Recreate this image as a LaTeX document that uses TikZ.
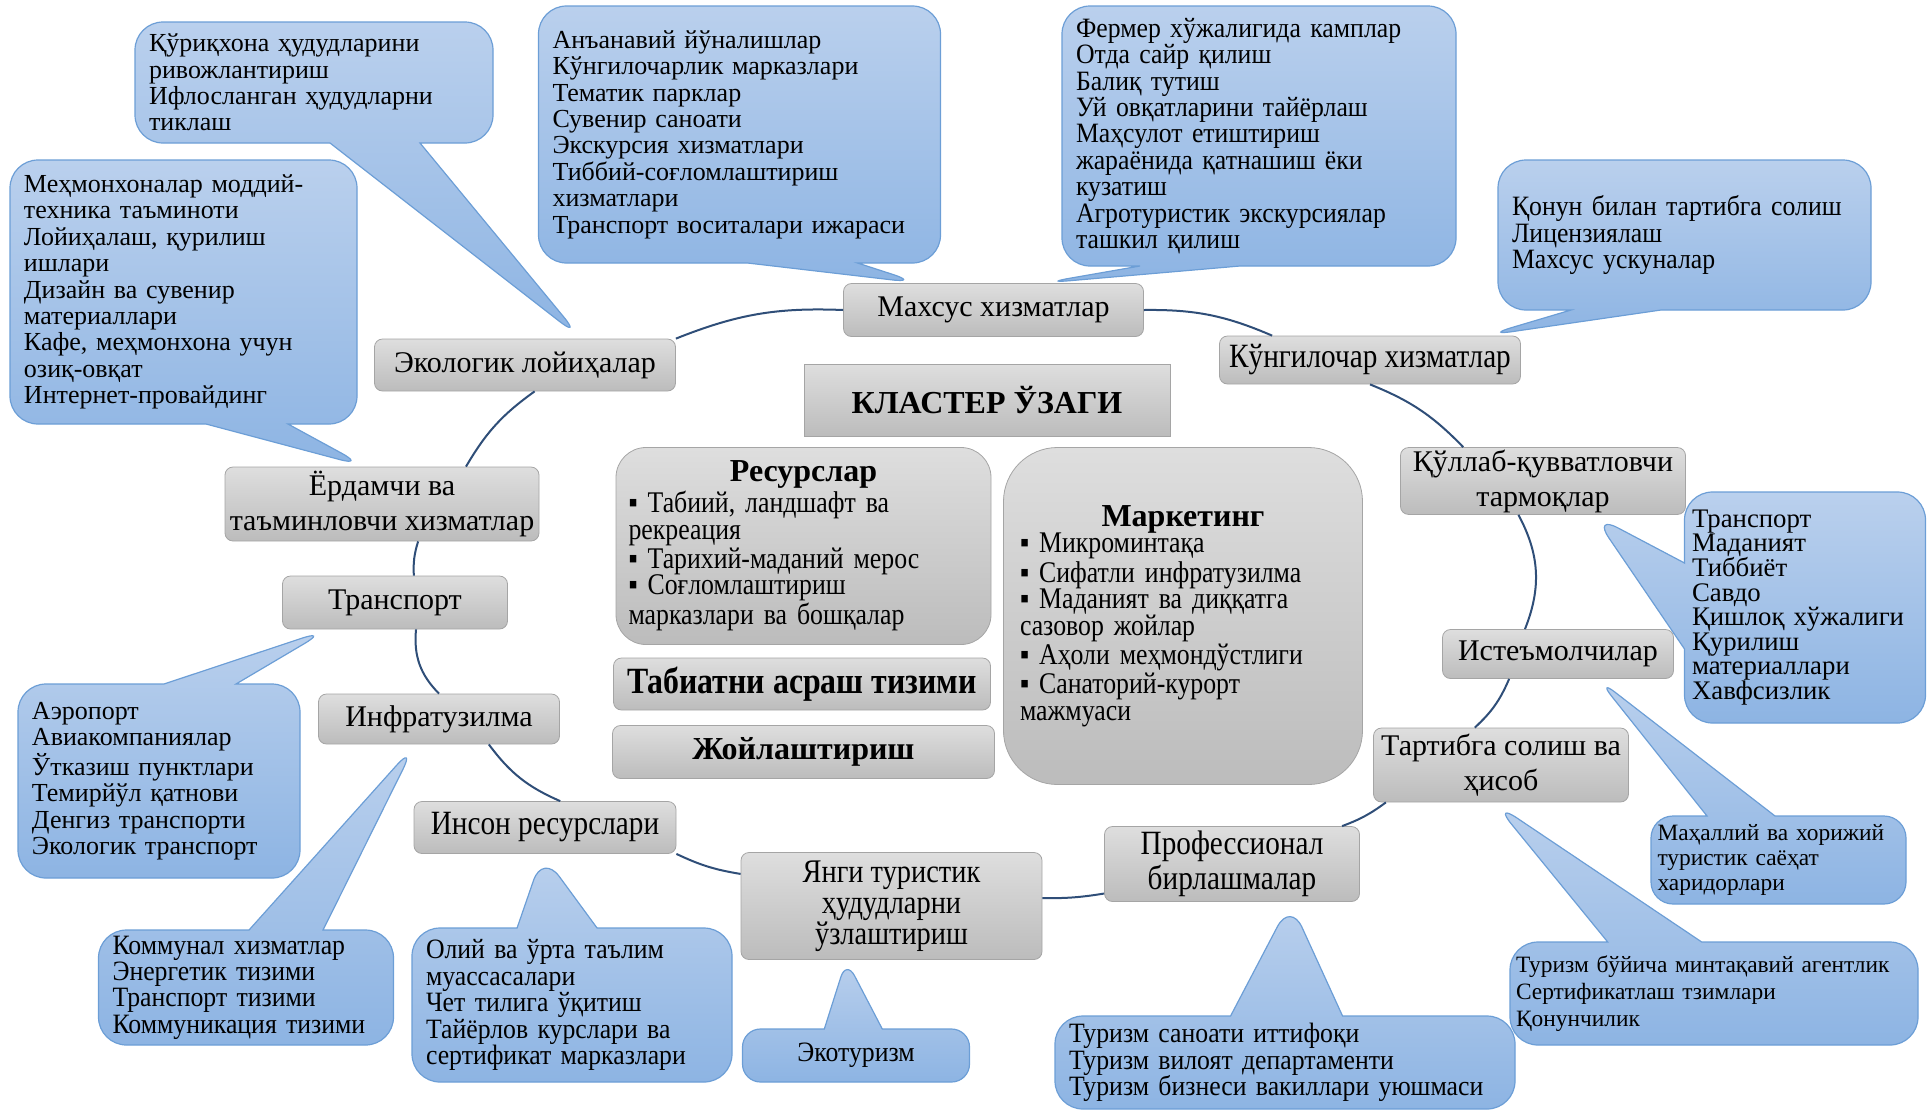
\documentclass[tikz,border=0pt]{standalone}
\usepackage{fontspec}
\setmainfont{Liberation Serif}
\newfontfamily\narrowserif[FakeStretch=0.86]{Liberation Serif}
\newfontfamily\slimserif[FakeStretch=0.92]{Liberation Serif}
\usetikzlibrary{shapes.callouts}

\definecolor{bubbletop}{RGB}{186,208,237}
\definecolor{bubblebottom}{RGB}{141,180,227}
\definecolor{bubbleline}{RGB}{108,158,214}
\definecolor{boxtop}{RGB}{222,222,222}
\definecolor{boxbottom}{RGB}{188,188,188}
\definecolor{boxline}{RGB}{165,165,165}
\definecolor{ringblue}{RGB}{47,78,120}

\newcommand\bubblefont{\fontsize{13}{13.2}\selectfont}
\newcommand\bubblesmall{\fontsize{11.7}{13.2}\selectfont}
\newcommand\bubblenarrow{\slimserif\fontsize{14}{13.2}\selectfont}
\newcommand\hubfont{\fontsize{15}{17.5}\selectfont}
\newcommand\hubnarrow{\narrowserif\fontsize{17}{17.5}\selectfont}
\newcommand\hubtight{\narrowserif\fontsize{16.5}{15.5}\selectfont}
\newcommand\listfont{\narrowserif\fontsize{15}{13.4}\selectfont}
\newcommand\headfont{\fontsize{16}{19}\selectfont\bfseries}

\tikzset{
  hub/.style={draw=boxline, top color=boxtop, bottom color=boxbottom,
    rounded corners=4pt, align=center, inner sep=1pt, font=\hubfont},
  bubble/.style={rectangle callout, draw=bubbleline, line width=0.6pt,
    top color=bubbletop, bottom color=bubblebottom, rounded corners=14pt,
    align=left, inner xsep=7pt, inner ysep=2pt, callout pointer width=40pt,
    font=\bubblefont},
  ring/.style={draw=ringblue, line width=1pt},
}

\begin{document}
\begin{tikzpicture}[x=0.5pt,y=-0.5pt]
  \useasboundingbox (0,0) rectangle (1928,1109);

  % ring of cluster members
  \node[hub, minimum width=150pt, minimum height=26.5pt] (special) at (993.5,310) {Махсус хизматлар};
  \node[hub, minimum width=150.5pt, minimum height=24pt, font=\hubnarrow] (fun) at (1370,360) {Кўнгилочар хизматлар};
  \node[hub, minimum width=142.5pt, minimum height=33pt] (support) at (1543,481) {Қўллаб-қувватловчи\\тармоқлар};
  \node[hub, minimum width=115.5pt, minimum height=24.5pt] (consumers) at (1558,654) {Истеъмолчилар};
  \node[hub, minimum width=127.5pt, minimum height=37pt] (regul) at (1501,765) {Тартибга солиш ва\\ҳисоб};
  \node[hub, minimum width=127.5pt, minimum height=37.5pt, font=\hubnarrow] (prof) at (1232,864) {Профессионал\\бирлашмалар};
  \node[hub, minimum width=150.5pt, minimum height=53.5pt, font=\hubtight] (newarea) at (891.5,906) {Янги туристик\\ҳудудларни\\ўзлаштириш};
  \node[hub, minimum width=131pt, minimum height=26pt, font=\hubnarrow] (human) at (545,827.5) {Инсон ресурслари};
  \node[hub, minimum width=120.5pt, minimum height=25pt] (infra) at (439,719) {Инфратузилма};
  \node[hub, minimum width=112.5pt, minimum height=26.5pt] (transport) at (395,602.5) {Транспорт};
  \node[hub, minimum width=157pt, minimum height=37pt] (auxiliary) at (382,504) {Ёрдамчи ва\\таъминловчи хизматлар};
  \node[hub, minimum width=150.5pt, minimum height=26pt] (eco) at (525,365) {Экологик лойиҳалар};

  % core
  \node[hub, rounded corners=0pt, minimum width=183pt, minimum height=36pt, font=\fontsize{16}{18}\selectfont\bfseries] (core) at (987,400) {КЛАСТЕР ЎЗАГИ};
  \node[hub, rounded corners=15pt, minimum height=98.5pt, text width=175pt, inner xsep=6.25pt, align=left] (resources) at (803.5,546)
    {{\centering\headfont Ресурслар\par}\raggedright\listfont
     ▪ Табиий, ландшафт ва\\рекреация\\▪ Тарихий-маданий мерос\\▪ Соғломлаштириш\\марказлари ва бошқалар\par};
  \node[hub, minimum width=188.5pt, minimum height=26pt, font=\narrowserif\fontsize{18.5}{20}\selectfont\bfseries] (nature) at (802,684) {Табиатни асраш тизими};
  \node[hub, minimum width=191pt, minimum height=26.5pt, font=\headfont] (lodging) at (803.5,752) {Жойлаштириш};
  \node[hub, rounded corners=27pt, minimum height=168.5pt, text width=163pt, inner xsep=8.25pt, align=left] (marketing) at (1183,616)
    {{\centering\headfont Маркетинг\par}\raggedright\listfont
     ▪ Микроминтақа\\▪ Сифатли инфратузилма\\▪ Маданият ва диққатга\\сазовор жойлар\\▪ Аҳоли меҳмондўстлиги\\▪ Санаторий-курорт\\мажмуаси\par};

  \draw[ring] (eco.north east) to[bend left=12] (special.west);
  \draw[ring] (special.east) to[bend left=12] (fun.166);
  \draw[ring] (fun.south) to[bend left=12] (support.157);
  \draw[ring] (support.234) to[bend left=25] (consumers.143);
  \draw[ring] (consumers.207) to[bend left=12] (regul.125);
  \draw[ring] (regul.198) to[bend left=8] (prof.19);
  \draw[ring] (prof.193) to[bend left=5] (newarea.3);
  \draw[ring] (newarea.168) to[bend left=8] (human.south east);
  \draw[ring] (human.60) to[bend left=15] (infra.333);
  \draw[ring] (infra.north) to[bend left=25] (transport.308);
  \draw[ring] (transport.55) to[bend left=10] (auxiliary.314);
  \draw[ring] (auxiliary.24) to[bend left=12] (eco.290);

  % notes
  \node[bubble, text width=165pt, minimum height=60.5pt, callout pointer width=45pt,
    callout absolute pointer={(eco.25)}] (reserveNote) at (314,82.5)
    {Қўриқхона ҳудудларини\\ривожлантириш\\Ифлосланган ҳудудларни\\тиклаш};
  \node[bubble, text width=187pt, minimum height=128.5pt, callout pointer width=55pt,
    callout absolute pointer={(special.160)}] (tradNote) at (739.5,134.5)
    {Анъанавий йўналишлар\\Кўнгилочарлик марказлари\\Тематик парклар\\Сувенир саноати\\Экскурсия хизматлари\\Тиббий-соғломлаштириш\\хизматлари\\Транспорт воситалари ижараси};
  \node[bubble, text width=183pt, minimum height=130pt, callout pointer width=50pt, font=\bubblenarrow,
    callout absolute pointer={(special.29)}] (farmNote) at (1259,136)
    {Фермер хўжалигида камплар\\Отда сайр қилиш\\Балиқ тутиш\\Уй овқатларини тайёрлаш\\Маҳсулот етиштириш\\жараёнида қатнашиш ёки\\кузатиш\\Агротуристик экскурсиялар\\ташкил қилиш};
  \node[bubble, text width=172.5pt, minimum height=75pt, callout pointer width=45pt, font=\bubblenarrow,
    callout absolute pointer={(fun.12)}] (lawNote) at (1684.5,235)
    {Қонун билан тартибга солиш\\Лицензиялаш\\Махсус ускуналар};
  \node[bubble, text width=159.5pt, minimum height=132pt, callout pointer width=41pt,
    callout absolute pointer={(auxiliary.113)}] (hotelNote) at (183.5,292)
    {Меҳмонхоналар моддий-\\техника таъминоти\\Лойиҳалаш, қурилиш\\ишлари\\Дизайн ва сувенир\\материаллари\\Кафе, меҳмонхона учун\\озиқ-овқат\\Интернет-провайдинг};
  \node[bubble, text width=127pt, minimum height=97pt, callout pointer width=36pt,
    callout absolute pointer={(transport.202)}] (airNote) at (159,781)
    {Аэропорт\\Авиакомпаниялар\\Ўтказиш пунктлари\\Темирйўл қатнови\\Денгиз транспорти\\Экологик транспорт};
  \node[bubble, text width=133.5pt, minimum height=57.5pt, callout pointer width=37pt, font=\bubblenarrow,
    callout absolute pointer={(infra.227)}] (utilNote) at (246,987.5)
    {Коммунал хизматлар\\Энергетик тизими\\Транспорт тизими\\Коммуникация тизими};
  \node[bubble, text width=146pt, minimum height=77pt, callout pointer width=40pt, font=\bubblenarrow,
    callout absolute pointer={(human.265)}] (eduNote) at (572,1005)
    {Олий ва ўрта таълим\\муассасалари\\Чет тилига ўқитиш\\Тайёрлов курслари ва\\сертификат марказлари};
  \node[bubble, text width=99.5pt, minimum height=26.5pt, callout pointer width=29pt, rounded corners=9pt,
    align=center, font=\bubblenarrow, callout absolute pointer={(newarea.230)}] (ecoNote) at (856,1055.5)
    {Экотуризм};
  \node[bubble, text width=216pt, minimum height=46.5pt, callout pointer width=56pt, font=\bubblenarrow,
    callout absolute pointer={(prof.327)}] (unionNote) at (1285,1062.5)
    {Туризм саноати иттифоқи\\Туризм вилоят департаменти\\Туризм бизнеси вакиллари уюшмаси};
  \node[bubble, text width=198pt, inner xsep=3pt, minimum height=51.5pt, callout pointer width=47pt,
    font=\fontsize{11.7}{13.5}\selectfont, callout absolute pointer={(regul.259)}] (agencyNote) at (1714,993.5)
    {Туризм бўйича минтақавий агентлик\\Сертификатлаш тзимлари\\Қонунчилик};
  \node[bubble, text width=121pt, inner xsep=3.25pt, minimum height=44pt, callout pointer width=34pt,
    font=\fontsize{11.7}{12.6}\selectfont, rounded corners=11pt,
    callout absolute pointer={(consumers.328)}] (buyerNote) at (1778.5,860)
    {Маҳаллий ва хорижий\\туристик саёҳат\\харидорлари};
  \node[bubble, text width=113pt, inner xsep=3.75pt, minimum height=115.5pt, callout pointer width=43pt,
    font=\fontsize{13.4}{12.3}\selectfont, callout absolute pointer={(support.326)}] (sectorNote) at (1805,607.5)
    {Транспорт\\Маданият\\Тиббиёт\\Савдо\\Қишлоқ хўжалиги\\Қурилиш\\материаллари\\Хавфсизлик};
\end{tikzpicture}
\end{document}
